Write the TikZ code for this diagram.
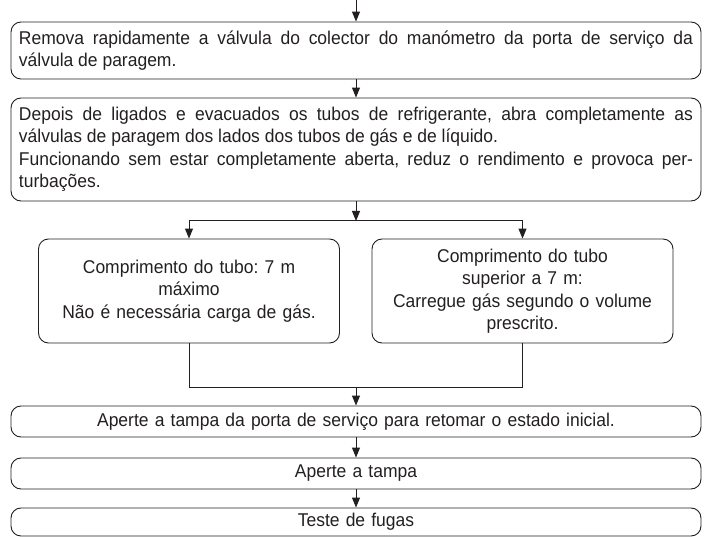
\documentclass[tikz,border=0pt]{standalone}
\usepackage{fontspec}
\setmainfont[FakeStretch=0.945]{Liberation Sans}
\usetikzlibrary{arrows.meta}
\definecolor{ink}{HTML}{231F20}
\begin{document}
\begin{tikzpicture}[x=1pt,y=-1pt,
  every node/.style={font=\fontsize{18.5}{22.5}\selectfont\frenchspacing, text=ink},
  box/.style={draw=ink, line width=0.9pt, rounded corners=10pt, inner xsep=8pt, inner ysep=0pt, anchor=center},
  wide/.style={box, minimum width=690pt, text width=674pt},
  side/.style={box, minimum width=298pt, minimum height=104pt, text width=285pt, align=center},
  arr/.style={draw=ink, line width=1pt, -{Triangle[width=8pt,length=10pt]}},
  ln/.style={draw=ink, line width=1pt}]
\useasboundingbox (0,0) rectangle (715,537);
\node[wide, minimum height=57pt, align=justify] (b1) at (356,50.5)
  {Remova rapidamente a válvula do colector do manómetro da porta de serviço da\linebreak válvula de paragem.};
\node[wide, minimum height=103pt, align=justify] (b2) at (356,149.5)
  {Depois de ligados e evacuados os tubos de refrigerante, abra completamente as\linebreak válvulas de paragem dos lados dos tubos de gás e de líquido.\\
   Funcionando sem estar completamente aberta, reduz o rendimento e provoca per-\linebreak turbações.};
\node[side] (L) at (189,291) {Comprimento do tubo: 7 m\\máximo\\Não é necessária carga de gás.};
\node[side] (R) at (522.5,291) {Comprimento do tubo\\superior a 7 m:\\Carregue gás segundo o volume\\prescrito.};
\node[wide, minimum height=31pt, align=center] (b3) at (356,421.5)
  {Aperte a tampa da porta de serviço para retomar o estado inicial.};
\node[wide, minimum height=31pt, align=center] (b4) at (356,473.5) {Aperte a tampa};
\node[wide, minimum height=28pt, align=center] (b5) at (356,522) {Teste de fugas};
\coordinate (top) at (356,0);
\coordinate (br) at (356,221);
\coordinate (ml) at (189,387);
\coordinate (mr) at (522.5,387);
\coordinate (mg) at (356,387);
\draw[arr] (top) -- (b1.north);
\draw[arr] (b1.south) -- (b2.north);
\draw[arr] (b2.south) -- (br);
\draw[arr] (br) -| (L.north);
\draw[arr] (br) -| (R.north);
\draw[ln] (L.south) -- (ml) -- (mr) -- (R.south);
\draw[arr] (mg) -- (b3.north);
\draw[arr] (b3.south) -- (b4.north);
\draw[arr] (b4.south) -- (b5.north);
\end{tikzpicture}
\end{document}
